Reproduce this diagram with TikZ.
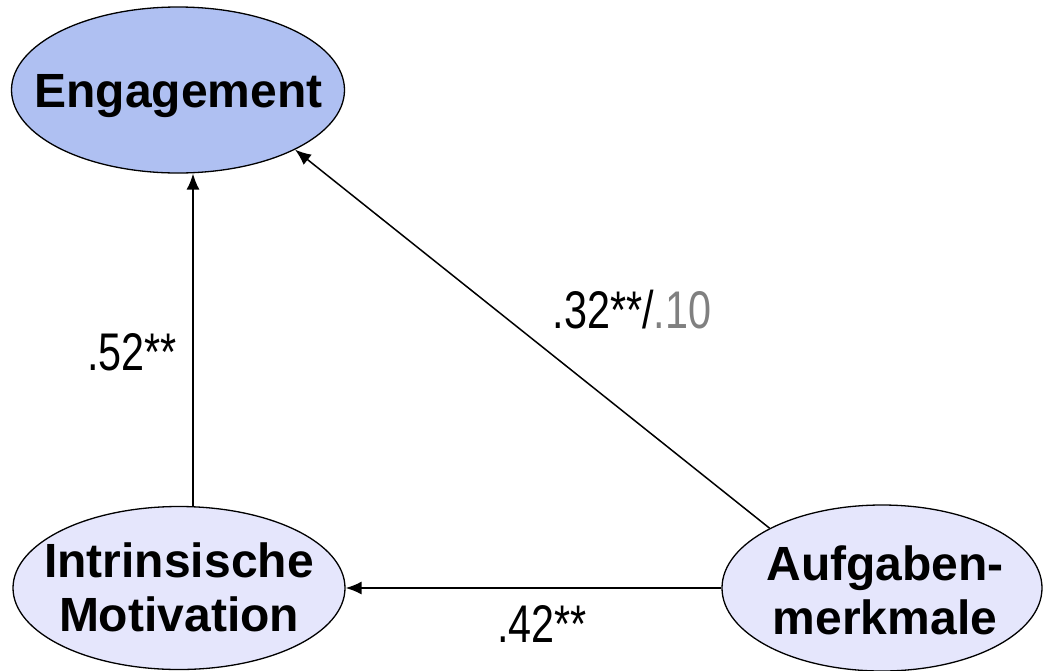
\documentclass[tikz,border=0pt]{standalone}
\usepackage{fontspec}
\setmainfont{Liberation Sans}
\newfontfamily\narrowsans[FakeStretch=0.78]{Liberation Sans}
\usetikzlibrary{shapes.geometric,arrows.meta}
\definecolor{engfill}{RGB}{175,192,242}
\definecolor{lightfill}{RGB}{229,230,252}
\definecolor{graytext}{RGB}{128,128,128}
\tikzset{
  oval/.style={ellipse, draw=black, line width=1.3pt, inner sep=0pt},
  ovaltext/.style={inner sep=0pt, align=center, font=\bfseries\fontsize{48}{54}\selectfont},
  coef/.style={inner sep=0pt, anchor=base, font=\narrowsans\fontsize{53}{60}\selectfont},
  path/.style={line width=1.5pt, -{Latex[length=16pt,width=13pt]}}
}
\begin{document}
\begin{tikzpicture}[x=1pt,y=-1pt]
\useasboundingbox (0,0) rectangle (1044,670);
\node[oval, fill=engfill, minimum width=333pt, minimum height=166pt] (eng) at (178,90) {};
\node[oval, fill=lightfill, minimum width=332pt, minimum height=163pt] (intr) at (179,588) {};
\node[oval, fill=lightfill, minimum width=320pt, minimum height=166pt] (aufg) at (882,588) {};
\node[ovaltext, anchor=base] (engt) at (178.5,107) {Engagement};
\node[ovaltext] (intrt) at (179,587) {Intrinsische\\Motivation};
\node[ovaltext] (aufgt) at (885,590) {Aufgaben-\\merkmale};
\draw[path] ([xshift=14pt]intr.north) -- ([xshift=15pt]eng.south);
\draw[path] (aufg.west) -- (intr.east);
\draw[path] (aufg.152.6) -- (eng.-27);
\node[coef] (c52) at (132,370) {.52**};
\node[coef] (c42) at (542,642) {.42**};
\node[coef] (c32) at (632,328) {.32**/\textcolor{graytext}{.10}};
\end{tikzpicture}
\end{document}
